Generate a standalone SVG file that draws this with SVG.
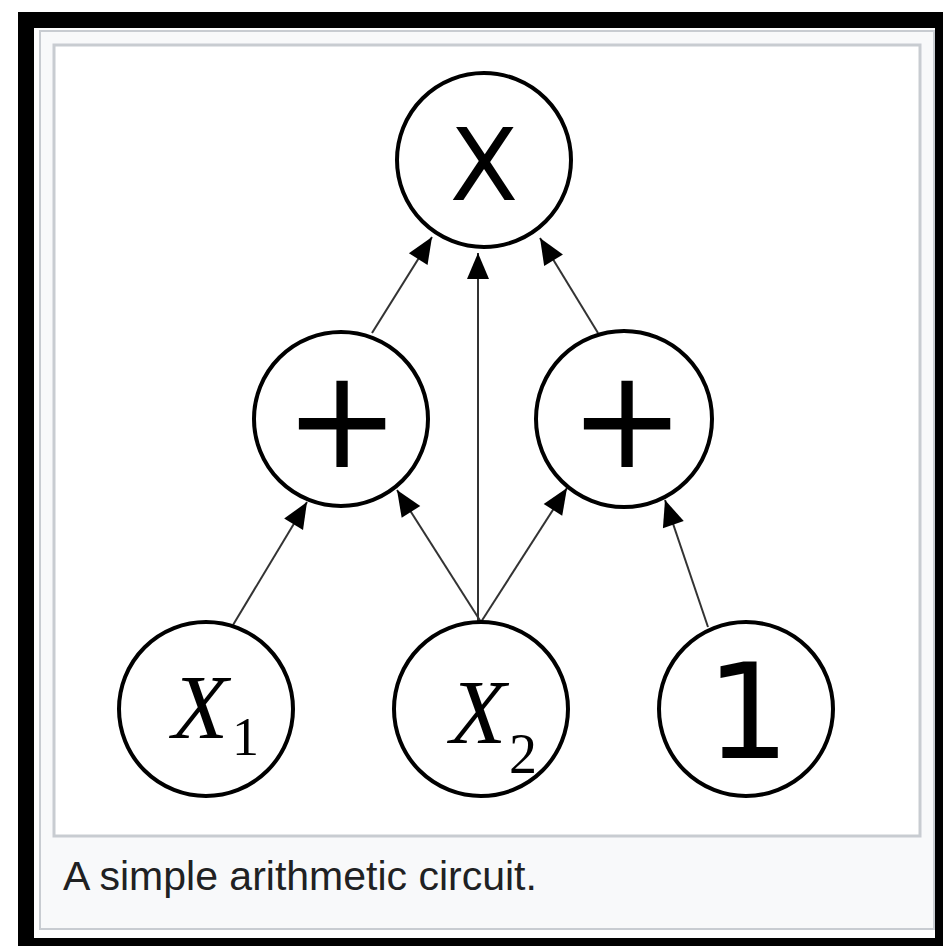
<svg xmlns="http://www.w3.org/2000/svg" width="943" height="946" viewBox="0 0 943 946">
  <style>
    .node circle { fill: #ffffff; stroke: #000000; stroke-width: 4; }
    .edge { stroke: #333333; stroke-width: 2; fill: none; marker-end: url(#arrow); }
    .sans { font-family: "DejaVu Sans", "Liberation Sans", sans-serif; fill: #000000; }
    .serif { font-family: "Liberation Serif", "DejaVu Serif", serif; fill: #000000; }
    .caption { font-family: "Liberation Sans", Arial, sans-serif; font-size: 41px; fill: #202122; }
  </style>
  <defs>
    <marker id="arrow" markerUnits="userSpaceOnUse" markerWidth="30" markerHeight="26" viewBox="0 -13 26 26" refX="26" refY="0" orient="auto">
      <path d="M0,-11 L26,0 L0,11 z" fill="#000000"/>
    </marker>
  </defs>

  <rect x="0" y="0" width="943" height="946" fill="#ffffff"/>
  <rect x="18" y="12" width="925" height="934" fill="#000000"/>
  <rect x="34" y="28" width="901" height="910" fill="#fdfdfd"/>
  <rect x="40" y="31" width="894" height="898" fill="#f8f9fa" stroke="#c8ccd1" stroke-width="2"/>
  <rect x="54" y="45" width="866" height="791" fill="#ffffff" stroke="#c8ccd1" stroke-width="3"/>

  <g id="connectors">
    <line class="edge" x1="233" y1="625" x2="307" y2="502"/>
    <line class="edge" x1="481" y1="622" x2="397" y2="490"/>
    <line class="edge" x1="478" y1="622" x2="478" y2="253"/>
    <line class="edge" x1="481" y1="622" x2="567" y2="488"/>
    <line class="edge" x1="708" y1="627" x2="665" y2="500"/>
    <line class="edge" x1="372" y1="333" x2="432" y2="237"/>
    <line class="edge" x1="598" y1="333" x2="540" y2="238"/>
  </g>

  <g id="node-times" class="node">
    <circle cx="484" cy="160" r="87"/>
    <text class="sans" x="484" y="200" font-size="100" text-anchor="middle">X</text>
  </g>
  <g id="node-plus-left" class="node">
    <circle cx="341" cy="419" r="87"/>
    <text class="sans" x="342" y="467" font-size="138" text-anchor="middle">+</text>
  </g>
  <g id="node-plus-right" class="node">
    <circle cx="624" cy="419" r="88"/>
    <text class="sans" x="627" y="467" font-size="138" text-anchor="middle">+</text>
  </g>
  <g id="node-x1" class="node">
    <circle cx="206" cy="709" r="87"/>
    <text class="serif" x="200" y="738" font-size="92" font-style="italic" text-anchor="middle">X</text>
    <text class="serif" x="232" y="755" font-size="54">1</text>
  </g>
  <g id="node-x2" class="node">
    <circle cx="481" cy="709" r="87"/>
    <text class="serif" x="478" y="743" font-size="92" font-style="italic" text-anchor="middle">X</text>
    <text class="serif" x="509" y="773" font-size="56">2</text>
  </g>
  <g id="node-one" class="node">
    <circle cx="746" cy="709" r="87"/>
    <text class="sans" x="748" y="758" font-size="132" text-anchor="middle">1</text>
  </g>

  <text class="caption" x="63" y="890">A simple arithmetic circuit.</text>
</svg>
